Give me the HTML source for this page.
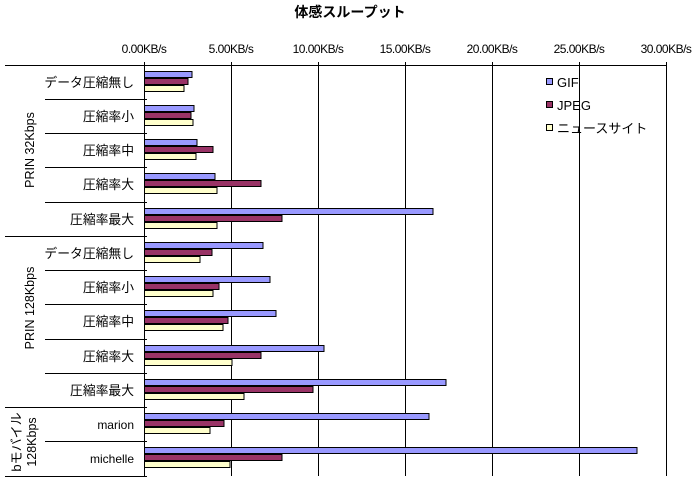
<!DOCTYPE html>
<html><head><meta charset="utf-8"><style>
body{margin:0;background:#fff}
svg{display:block;font-family:"Liberation Sans","Noto Sans CJK JP",sans-serif}
</style></head><body>
<svg width="700" height="480" viewBox="0 0 700 480" xmlns="http://www.w3.org/2000/svg">
<rect width="700" height="480" fill="#fff"/>
<text x="350" y="17" text-anchor="middle" font-size="14" font-weight="bold">体感スループット</text>
<g font-size="12" text-anchor="middle" letter-spacing="-0.5">
<text x="144" y="53">0.00KB/s</text><text x="231" y="53">5.00KB/s</text><text x="318" y="53">10.00KB/s</text><text x="405" y="53">15.00KB/s</text><text x="492" y="53">20.00KB/s</text><text x="579" y="53">25.00KB/s</text><text x="666" y="53">30.00KB/s</text>
</g>
<g stroke="#000" stroke-width="1">
<line x1="5" y1="65.5" x2="666" y2="65.5"/>
<line x1="231.5" y1="62" x2="231.5" y2="476"/><line x1="318.5" y1="62" x2="318.5" y2="476"/><line x1="405.5" y1="62" x2="405.5" y2="476"/><line x1="492.5" y1="62" x2="492.5" y2="476"/><line x1="579.5" y1="62" x2="579.5" y2="476"/><line x1="666.5" y1="62" x2="666.5" y2="476"/>
<line x1="144.5" y1="62" x2="144.5" y2="476"/>
<line x1="5" y1="476.5" x2="147" y2="476.5"/>
<line x1="5" y1="236.5" x2="147" y2="236.5"/><line x1="5" y1="407.5" x2="147" y2="407.5"/>
<line x1="45" y1="99.5" x2="147" y2="99.5"/><line x1="45" y1="133.5" x2="147" y2="133.5"/><line x1="45" y1="167.5" x2="147" y2="167.5"/><line x1="45" y1="202.5" x2="147" y2="202.5"/>
<line x1="45" y1="270.5" x2="147" y2="270.5"/><line x1="45" y1="304.5" x2="147" y2="304.5"/><line x1="45" y1="339.5" x2="147" y2="339.5"/><line x1="45" y1="373.5" x2="147" y2="373.5"/>
<line x1="45" y1="441.5" x2="147" y2="441.5"/>
</g>
<g font-size="12.8" text-anchor="end">
<text x="134" y="87">データ圧縮無し</text><text x="134" y="121">圧縮率小</text><text x="134" y="155">圧縮率中</text><text x="134" y="189">圧縮率大</text><text x="134" y="224">圧縮率最大</text>
<text x="134" y="258">データ圧縮無し</text><text x="134" y="292">圧縮率小</text><text x="134" y="326">圧縮率中</text><text x="134" y="361">圧縮率大</text><text x="134" y="395">圧縮率最大</text>
<text x="134" y="429" font-size="12">marion</text><text x="134" y="463" font-size="12">michelle</text>
</g>
<g font-size="12.5" text-anchor="middle">
<text transform="translate(34,150) rotate(-90)">PRIN 32Kbps</text>
<text transform="translate(34,308) rotate(-90)">PRIN 128Kbps</text>
<text transform="translate(21,442) rotate(-90)" font-size="13">bモバイル</text>
<text transform="translate(36,442) rotate(-90)">128Kbps</text>
</g>
<g stroke="#000" stroke-width="1">
<g fill="#9999ff">
<rect x="144.5" y="71.5" width="47.5" height="6"/><rect x="144.5" y="105.5" width="49.5" height="6"/><rect x="144.5" y="139.5" width="52.5" height="6"/><rect x="144.5" y="173.5" width="70.5" height="6"/><rect x="144.5" y="208.5" width="288.5" height="6"/>
<rect x="144.5" y="242.5" width="118.5" height="6"/><rect x="144.5" y="276.5" width="125.5" height="6"/><rect x="144.5" y="310.5" width="131.5" height="6"/><rect x="144.5" y="345.5" width="179.5" height="6"/><rect x="144.5" y="379.5" width="301.5" height="6"/>
<rect x="144.5" y="413.5" width="284.5" height="6"/><rect x="144.5" y="447.5" width="492.5" height="6"/>
</g>
<g fill="#993366">
<rect x="144.5" y="78.5" width="43.5" height="6"/><rect x="144.5" y="112.5" width="46.5" height="6"/><rect x="144.5" y="146.5" width="68.5" height="6"/><rect x="144.5" y="180.5" width="116.5" height="6"/><rect x="144.5" y="215.5" width="137.5" height="6"/>
<rect x="144.5" y="249.5" width="67.5" height="6"/><rect x="144.5" y="283.5" width="74.5" height="6"/><rect x="144.5" y="317.5" width="83.5" height="6"/><rect x="144.5" y="352.5" width="116.5" height="6"/><rect x="144.5" y="386.5" width="168.5" height="6"/>
<rect x="144.5" y="420.5" width="79.5" height="6"/><rect x="144.5" y="454.5" width="137.5" height="6"/>
</g>
<g fill="#ffffcc">
<rect x="144.5" y="85.5" width="39.5" height="6"/><rect x="144.5" y="119.5" width="48.5" height="6"/><rect x="144.5" y="153.5" width="51.5" height="6"/><rect x="144.5" y="187.5" width="72.5" height="6"/><rect x="144.5" y="222.5" width="72.5" height="6"/>
<rect x="144.5" y="256.5" width="55.5" height="6"/><rect x="144.5" y="290.5" width="68.5" height="6"/><rect x="144.5" y="324.5" width="78.5" height="6"/><rect x="144.5" y="359.5" width="87.5" height="6"/><rect x="144.5" y="393.5" width="99.5" height="6"/>
<rect x="144.5" y="427.5" width="65.5" height="6"/><rect x="144.5" y="461.5" width="85.5" height="6"/>
</g>
<rect x="546.5" y="78.5" width="6" height="6" fill="#9999ff"/>
<rect x="546.5" y="101.5" width="6" height="6" fill="#993366"/>
<rect x="546.5" y="124.5" width="6" height="6" fill="#ffffcc"/>
</g>
<g font-size="13">
<text x="557" y="87">GIF</text><text x="557" y="110">JPEG</text><text x="557" y="133">ニュースサイト</text>
</g>
</svg>
</body></html>
